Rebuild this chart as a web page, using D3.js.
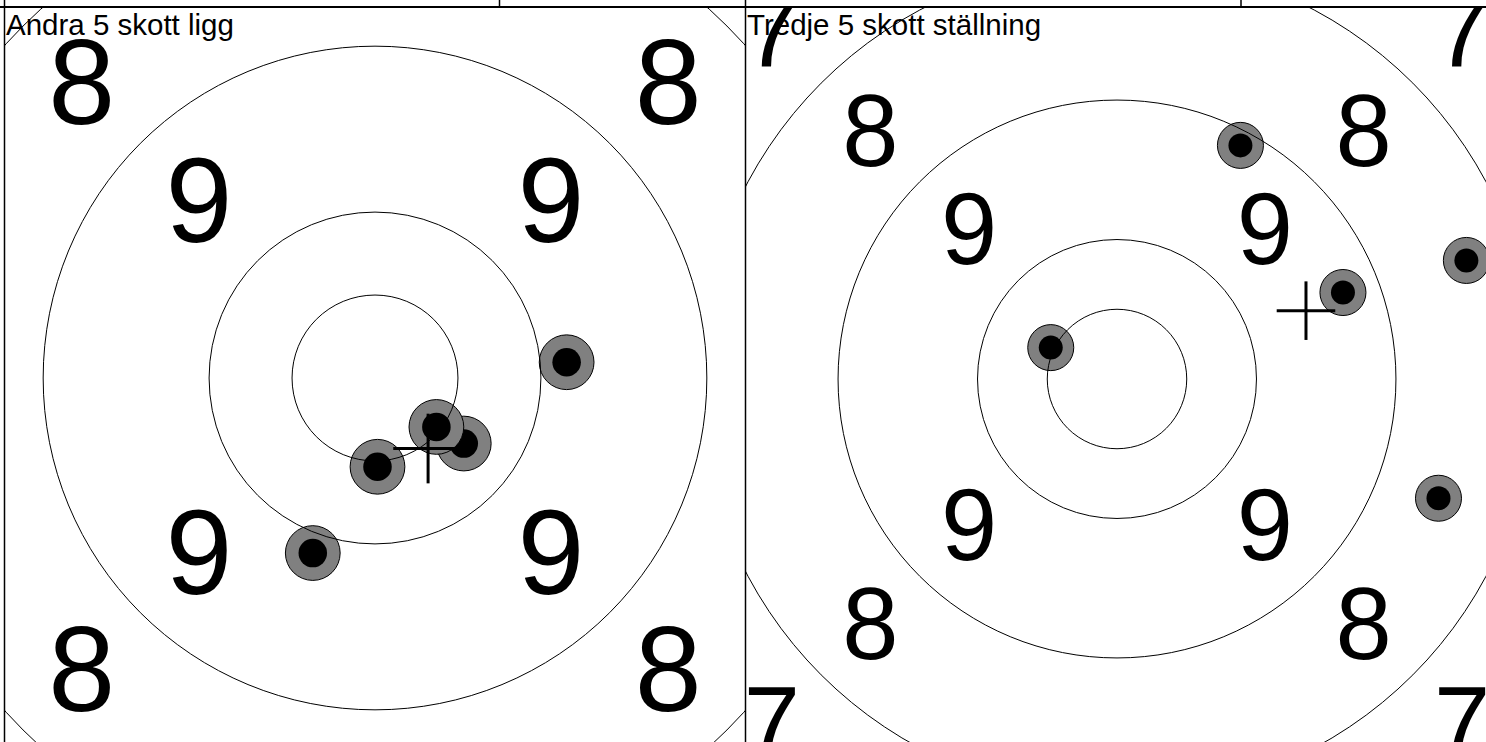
<!DOCTYPE html>
<html><head><meta charset="utf-8">
<script src="https://cdn.jsdelivr.net/npm/d3@7"></script>
<style>body{margin:0;background:#fff}svg{display:block}</style>
</head><body>
<script>
// ---- data ----
const panelTitles = ["Andra 5 skott ligg", "Tredje 5 skott ställning"];
const ringNames = ["10", "9", "8", "7", "6"];
const ringRadii = [10, 20, 40, 60, 80];
const zoneLabels = ["9", "8", "7"];
const zoneLabelRadii = [30, 50, 70];
const viewExtent = [44.6, 53.2];           // half-width of each panel's view, target units

const shotsLigg = { x: [23.1, 10.7, 7.4, 0.3, -7.5], y: [-1.9, 7.9, 5.9, 10.7, 21.1] };
const shotsStallning = { x: [17.7, 50.1, 32.4, -9.5, 46.1], y: [-33.5, -17.0, -12.4, -4.5, 17.1] };
const meanLigg = { x: 6.4, y: 8.5 };
const meanStallning = { x: 27.1, y: -9.8 };

const shotOuterR = 3.3, shotInnerR = 1.72, crossHalf = 4.2, labelSize = 14.5;

const panels = [
  { title: panelTitles[0], shots: shotsLigg, mean: meanLigg, ext: viewExtent[0] },
  { title: panelTitles[1], shots: shotsStallning, mean: meanStallning, ext: viewExtent[1] }
];

// ---- layout ----
const W = 1486, H = 742;
const frames = [{ x0: 5, x1: 745 }, { x0: 746, x1: 1488 }];
const topY = 8;

const svg = d3.select("body").append("svg").attr("width", W).attr("height", H)
  .style("font-family", "'Liberation Sans', Arial, Helvetica, sans-serif");
svg.append("rect").attr("width", W).attr("height", H).attr("fill", "#fff");
const defs = svg.append("defs");

panels.forEach((p, i) => {
  const f = frames[i];
  const size = f.x1 - f.x0;
  const x = d3.scaleLinear().domain([-p.ext, p.ext]).range([f.x0, f.x1]);
  const y = d3.scaleLinear().domain([-p.ext, p.ext]).range([topY, topY + size]);
  const r = d3.scaleLinear().domain([0, 2 * p.ext]).range([0, size]);

  defs.append("clipPath").attr("id", "clip" + i).append("rect")
    .attr("x", f.x0).attr("y", topY).attr("width", size).attr("height", size);
  const g = svg.append("g").attr("clip-path", `url(#clip${i})`);

  const shots = p.shots.x.map((v, k) => ({ x: v, y: p.shots.y[k] }));
  // shots
  const sg = g.append("g");
  shots.forEach(s => {
    sg.append("circle").attr("cx", x(s.x)).attr("cy", y(s.y)).attr("r", r(shotOuterR))
      .attr("fill", "#808080").attr("stroke", "#000").attr("stroke-width", 1);
    sg.append("circle").attr("cx", x(s.x)).attr("cy", y(s.y)).attr("r", r(shotInnerR))
      .attr("fill", "#000");
  });
  // rings
  g.append("g").selectAll("circle").data(ringRadii).join("circle")
    .attr("cx", x(0)).attr("cy", y(0)).attr("r", d => r(d))
    .attr("fill", "none").attr("stroke", "#000").attr("stroke-width", 1);
  // zone numbers on diagonals
  const fs = r(labelSize);
  const lab = [];
  zoneLabels.forEach((t, k) => {
    const d = zoneLabelRadii[k] / Math.SQRT2;
    [[-1, -1], [1, -1], [-1, 1], [1, 1]].forEach(([sx, sy]) => lab.push({ t, x: sx * d, y: sy * d }));
  });
  g.append("g").selectAll("text").data(lab).join("text")
    .attr("x", d => x(d.x)).attr("y", d => y(d.y) + 0.33 * fs)
    .attr("text-anchor", "middle").attr("font-size", fs).attr("fill", "#000")
    .text(d => d.t);
  // mean point cross
  const cg = g.append("g").attr("stroke", "#000").attr("stroke-width", 3);
  cg.append("line").attr("x1", x(p.mean.x - crossHalf)).attr("x2", x(p.mean.x + crossHalf))
    .attr("y1", y(p.mean.y)).attr("y2", y(p.mean.y));
  cg.append("line").attr("x1", x(p.mean.x)).attr("x2", x(p.mean.x))
    .attr("y1", y(p.mean.y - crossHalf)).attr("y2", y(p.mean.y + crossHalf));
  // title
  g.append("text").attr("x", f.x0 + 1).attr("y", 34.5).attr("font-size", 29.5)
    .attr("fill", "#000").text(p.title);
});

// frame / table lines
const lines = svg.append("g").attr("stroke", "#000");
lines.append("line").attr("x1", 0).attr("x2", W).attr("y1", 7).attr("y2", 7).attr("stroke-width", 2);
lines.append("line").attr("x1", 4.5).attr("x2", 4.5).attr("y1", 0).attr("y2", H).attr("stroke-width", 1.5);
lines.append("line").attr("x1", 745.5).attr("x2", 745.5).attr("y1", 0).attr("y2", H).attr("stroke-width", 1.5);
lines.append("line").attr("x1", 499.5).attr("x2", 499.5).attr("y1", 0).attr("y2", 7).attr("stroke-width", 1.5);
lines.append("line").attr("x1", 1241).attr("x2", 1241).attr("y1", 0).attr("y2", 7).attr("stroke-width", 1.5);
</script>
</body></html>
